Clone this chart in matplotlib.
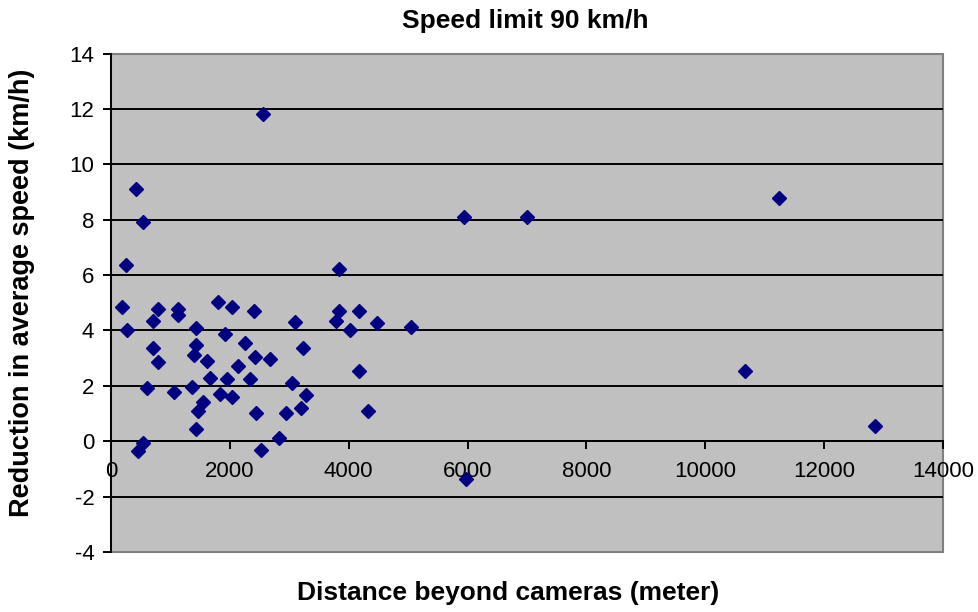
import matplotlib.pyplot as plt
from matplotlib.patches import Rectangle

# distance beyond cameras (m) and reduction in average speed (km/h)
distance = [185, 270, 250, 420, 540, 448, 543, 599, 710, 710,
            794, 783, 1058, 1130, 1130, 1355, 1398, 1432, 1432, 1427,
            1466, 1549, 1617, 1662, 1800, 1841, 1914, 1959, 2036, 2035,
            2138, 2262, 2333, 2400, 2430, 2446, 2518, 2550, 2669, 2826,
            2938, 3050, 3089, 3201, 3230, 3285, 3789, 3833, 3833, 4021,
            4165, 4175, 4329, 4476, 5044, 5940, 5967, 6996, 10675, 11247,
            12856]
reduction = [4.86, 4.02, 6.38, 9.09, 7.93, -0.36, -0.08, 1.91, 3.38, 4.35,
             2.85, 4.77, 1.79, 4.77, 4.57, 1.97, 3.12, 3.48, 4.10, 0.43,
             1.09, 1.42, 2.90, 2.29, 5.01, 1.72, 3.87, 2.24, 1.58, 4.83,
             2.72, 3.54, 2.24, 4.69, 3.05, 1.03, -0.30, 11.81, 2.96, 0.12,
             1.03, 2.11, 4.29, 1.21, 3.36, 1.67, 4.35, 4.71, 6.22, 4.02,
             2.55, 4.69, 1.10, 4.26, 4.11, 8.08, -1.35, 8.08, 2.54, 8.77,
             0.54]

x_ticks = [0, 2000, 4000, 6000, 8000, 10000, 12000, 14000]
y_ticks = [-4, -2, 0, 2, 4, 6, 8, 10, 12, 14]

plt.rcParams['font.family'] = ['Liberation Sans', 'DejaVu Sans']
plt.rcParams['axes.unicode_minus'] = False

fig = plt.figure(figsize=(9.79, 6.12), dpi=100)
ax = fig.add_axes([111 / 979, 1 - 552 / 612, 832 / 979, 498.5 / 612])
ax.set_facecolor('#c0c0c0')

ax.set_xlim(0, 14000)
ax.set_ylim(-4, 14)
ax.set_xticks(x_ticks)
ax.set_yticks(y_ticks)

# horizontal gridlines in black like the excel default
for y in y_ticks[1:-1]:
    ax.axhline(y, color='black', lw=1.4, zorder=1)

ax.plot(distance, reduction, linestyle='none', marker='D', ms=7,
        color='#000080', mec='#000080', zorder=5, clip_on=False)

# x axis sits at y = 0, grey frame around the plot area
for s in ['top', 'right']:
    ax.spines[s].set_visible(False)
ax.spines['bottom'].set_position(('data', 0))
ax.spines['bottom'].set_color('black')
ax.spines['bottom'].set_linewidth(1.4)
ax.spines['left'].set_color('black')
ax.spines['left'].set_linewidth(1.4)
ax.add_patch(Rectangle((0, 0), 1, 1, transform=ax.transAxes, fill=False,
                       edgecolor='#808080', lw=1.5, zorder=0.5, clip_on=False))

ax.tick_params(axis='both', direction='out', length=6, width=1.4, labelsize=16)
ax.tick_params(axis='x', pad=8)
ax.tick_params(axis='y', pad=6)
for lab in ax.get_xticklabels():
    lab.set_zorder(2)

fig.text(525 / 979, 1 - 21 / 612, 'Speed limit 90 km/h', ha='center', va='center',
         fontsize=19, fontweight='bold')
fig.text(22 / 979, 1 - 293 / 612, 'Reduction in average speed (km/h)', rotation=90,
         ha='center', va='center', fontsize=19.5, fontweight='bold')
fig.text(508 / 979, 1 - 593 / 612, 'Distance beyond cameras (meter)', ha='center',
         va='center', fontsize=19, fontweight='bold')

fig.savefig('out.png', dpi=100)
